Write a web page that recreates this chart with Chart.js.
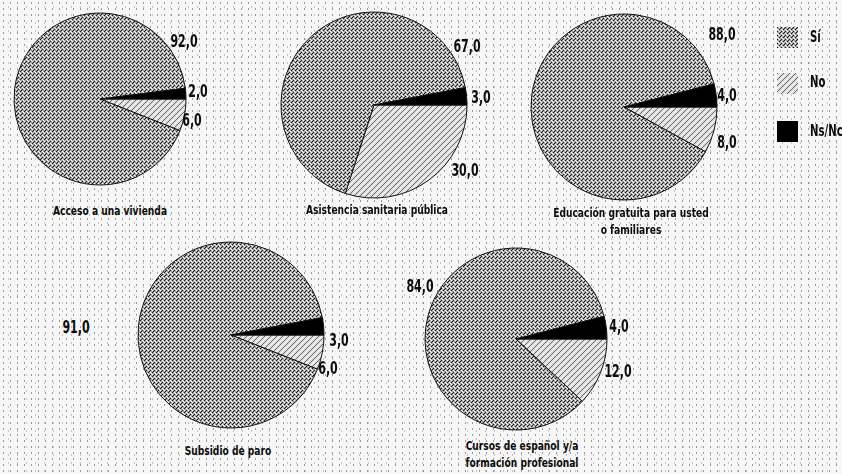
<!DOCTYPE html>
<html>
<head>
<meta charset="utf-8">
<script src="https://cdn.jsdelivr.net/npm/chart.js@4"></script>
<style>
  html, body { margin:0; padding:0; }
  body {
    width:842px; height:474px; overflow:hidden; position:relative;
    background-color:#f6f6f6;
    background-image:
      radial-gradient(circle, #9a9a9a 0.6px, transparent 0.9px),
      radial-gradient(circle, #c4c4c4 0.6px, transparent 0.9px);
    background-size:7px 6px, 9px 8px;
    background-position:0 0, 4px 3px;
    font-family:"DejaVu Sans Condensed","DejaVu Sans",sans-serif;
    font-stretch:condensed;
    font-weight:bold; color:#0d0d0d;
  }
  .pie { position:absolute; }
  .txt { position:absolute; white-space:nowrap; }
  .val { font-size:17px; transform:translate(-50%,-50%) scaleX(0.72); }
  .title { font-size:13px; text-align:center; line-height:17px; transform:translate(-50%,0) scaleX(0.78); }
  .leg { position:absolute; font-size:15px; transform-origin:0 50%; transform:scaleX(0.75); }
  .sw { position:absolute; width:21px; height:21px; }
</style>
</head>
<body>
<script>
// ---- data ----
const categories = ['Acceso a una vivienda', 'Asistencia sanitaria pública', 'Educación gratuita para usted\no familiares', 'Subsidio de paro', 'Cursos de español y/a\nformación profesional'];
const seriesLabels = ['Sí', 'No', 'Ns/Nc'];
const siValues   = [92, 67, 88, 91, 84];
const noValues   = [6, 30, 8, 6, 12];
const nsncValues = [2, 3, 4, 3, 4];

// ---- layout (positions / sizes only) ----
const pieLayout = [
  {cx:100, cy:99,  r:86},
  {cx:374, cy:105, r:93},
  {cx:624, cy:107, r:93},
  {cx:231, cy:335, r:93},
  {cx:516, cy:339, r:91}
];
// label positions: [Sí, No, Ns/Nc]
const labelLayout = [
  [[184,41],[192,120],[198,91]],
  [[467,46],[465,170],[481,97]],
  [[722,34],[727,142],[727,95]],
  [[76,327],[328,368],[339,340]],
  [[420,286],[618,371],[619,326]]
];
const titleLayout = [[110,202],[377,201],[631,204],[228,442],[522,437]];

// ---- patterns ----
function makePattern(kind){
  const c = document.createElement('canvas');
  if (kind==='si'){
    c.width=4; c.height=4;
    const x=c.getContext('2d');
    x.fillStyle='#a6a6a6'; x.fillRect(0,0,4,4);
    x.fillStyle='#1a1a1a'; x.fillRect(0,0,1,1); x.fillRect(2,2,1,1); x.fillRect(3,1,1,1);
    x.fillStyle='#ffffff'; x.fillRect(2,0,1,1); x.fillRect(0,2,1,1); x.fillRect(1,3,1,1);
  } else if (kind==='no'){
    c.width=6; c.height=6;
    const x=c.getContext('2d');
    x.fillStyle='#dcdcdc'; x.fillRect(0,0,6,6);
    x.fillStyle='#6a6a6a';
    for(let i=0;i<6;i++){ x.fillRect((6-i)%6,i,1,1); }
    x.fillStyle='#ffffff';
    for(let i=0;i<6;i++){ x.fillRect((9-i)%6,i,1,1); }
  } else {
    c.width=2; c.height=2;
    const x=c.getContext('2d');
    x.fillStyle='#000'; x.fillRect(0,0,2,2);
  }
  return c;
}
const patCanvases = { si:makePattern('si'), no:makePattern('no'), ns:makePattern('ns') };
const tmp = document.createElement('canvas').getContext('2d');
const fills = {
  si: tmp.createPattern(patCanvases.si,'repeat'),
  no: tmp.createPattern(patCanvases.no,'repeat'),
  ns: '#000000'
};

const fmt = v => v.toFixed(1).replace('.', ',');

function addText(cls, x, y, text){
  const d = document.createElement('div');
  d.className = 'txt ' + cls;
  d.style.left = x+'px'; d.style.top = y+'px';
  d.innerHTML = text;
  document.body.appendChild(d);
  return d;
}

categories.forEach((cat, i) => {
  const L = pieLayout[i];
  const size = 2*L.r + 8;
  const cv = document.createElement('canvas');
  cv.className = 'pie';
  cv.width = size; cv.height = size;
  cv.style.width = size+'px'; cv.style.height = size+'px';
  cv.style.left = (L.cx - size/2)+'px';
  cv.style.top = (L.cy - size/2)+'px';
  document.body.appendChild(cv);
  // order clockwise from 3 o'clock: No, Sí, Ns/Nc
  new Chart(cv.getContext('2d'), {
    type:'pie',
    data:{
      labels:[seriesLabels[1], seriesLabels[0], seriesLabels[2]],
      datasets:[{
        data:[noValues[i], siValues[i], nsncValues[i]],
        backgroundColor:[fills.no, fills.si, fills.ns],
        borderColor:['#111','#111','#111'],
        borderWidth:1,
        hoverOffset:0,
        offset:0,
        radius:L.r
      }]
    },
    options:{
      responsive:false,
      animation:false,
      rotation:90,
      layout:{padding:0},
      plugins:{legend:{display:false}, tooltip:{enabled:false}}
    }
  });
  const vals = [siValues[i], noValues[i], nsncValues[i]];
  vals.forEach((v,k) => addText('val', labelLayout[i][k][0], labelLayout[i][k][1], fmt(v)));
  addText('title', titleLayout[i][0], titleLayout[i][1], cat.replace('\n','<br>'));
});

// ---- legend ----
const legendLayout = [[777,27,810,38],[777,73,810,83],[777,121,810,132]];
const legendFills = ['si','no','ns'];
seriesLabels.forEach((lab,k) => {
  const [bx,by,tx,ty] = legendLayout[k];
  const sw = document.createElement('div');
  sw.className='sw';
  sw.style.left=bx+'px'; sw.style.top=by+'px';
  if (legendFills[k]==='ns') sw.style.background='#000';
  else sw.style.backgroundImage='url('+patCanvases[legendFills[k]].toDataURL()+')';
  document.body.appendChild(sw);
  const t = document.createElement('div');
  t.className='leg';
  t.style.left=tx+'px'; t.style.top=(ty-10)+'px';
  t.textContent=lab;
  document.body.appendChild(t);
});
</script>
</body>
</html>
